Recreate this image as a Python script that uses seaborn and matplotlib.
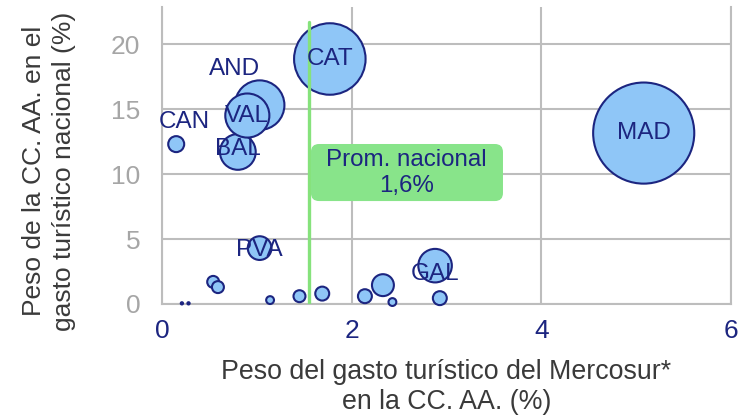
import pandas as pd
import seaborn as sns
import matplotlib.pyplot as plt
from matplotlib.patches import FancyBboxPatch

# Data
regiones = ["MAD", "CAT", "AND", "BAL", "VAL", "GAL", "PVA", "CAN",
            "", "", "", "", "", "", "", "", "", "", ""]
peso_mercosur = [5.08, 1.77, 1.03, 0.80, 0.90, 2.88, 1.03, 0.15,
                 2.33, 0.54, 0.59, 1.69, 2.14, 1.45, 2.93, 1.14, 2.43, 0.21, 0.28]
peso_nacional = [13.15, 18.85, 15.3, 11.7, 14.5, 2.95, 4.3, 12.3,
                 1.45, 1.7, 1.3, 0.8, 0.6, 0.6, 0.45, 0.3, 0.15, 0.05, 0.05]
tamano = [100, 50, 24, 12.5, 19, 11, 5.5, 2.5,
          4.7, 1.4, 1.4, 1.9, 1.9, 1.4, 1.9, 0.6, 0.6, 0.05, 0.05]

promedio = 1.55

df = pd.DataFrame({"region": regiones, "x": peso_mercosur,
                   "y": peso_nacional, "tam": tamano})

navy = "#1c2580"
fill = "#8fc6f7"
grid = "#bdbdbd"

sns.set_style("white")
plt.rcParams["font.family"] = ["Liberation Sans", "DejaVu Sans"]

fig = plt.figure(figsize=(7.42, 4.17), dpi=100)
ax = fig.add_axes([0.2183, 0.271, 0.7668, 0.7122])

sns.scatterplot(data=df, x="x", y="y", size="tam", sizes=(0, 5300),
                size_norm=(0, 100), color=fill, edgecolor=navy,
                linewidth=1.5, alpha=1, legend=False, ax=ax, zorder=3,
                clip_on=False)

# national average line + label box
ax.plot([promedio, promedio], [0, 21.7], color="#86e27c", lw=2.4, zorder=4)
box = FancyBboxPatch((1.571, 7.92), 2.025, 4.39,
                     boxstyle="round,pad=0,rounding_size=0.085",
                     mutation_aspect=7.29, fc="#88e48a", ec="none", zorder=5)
ax.add_patch(box)
ax.text(2.58, 10.1, "Prom. nacional\n1,6%", ha="center", va="center",
        fontsize=17.4, color=navy, zorder=6, linespacing=1.25)

# labels (offsets in points)
offsets = {"MAD": (0, 0), "CAT": (0, 0), "AND": (-18, 26), "VAL": (0, 0),
           "BAL": (0, 2), "GAL": (0, -6), "PVA": (0, -1.5), "CAN": (5.5, 16)}
for r, x, y in zip(regiones, peso_mercosur, peso_nacional):
    if r:
        ax.annotate(r, (x, y), xytext=offsets[r], textcoords="offset points",
                    ha="center", va="center", fontsize=17.5, color=navy,
                    zorder=7)

ax.set_xlim(0, 6)
ax.set_ylim(0, 22.85)
ax.set_xticks([0, 2, 4, 6])
ax.set_yticks([0, 5, 10, 15, 20])
ax.grid(True, color=grid, lw=1.5)
ax.set_axisbelow(True)
for s in ["left", "bottom", "right"]:
    ax.spines[s].set_color(grid)
    ax.spines[s].set_linewidth(1.5)
ax.spines["top"].set_visible(False)
ax.tick_params(axis="x", colors=grid, length=6, width=1.5, labelcolor=navy,
               labelsize=19, pad=5)
ax.tick_params(axis="y", length=0, labelcolor="#a6a6a6", labelsize=19,
               pad=15.5)

ax.set_xlabel("Peso del gasto turístico del Mercosur*\nen la CC. AA. (%)",
              fontsize=19.3, color="#3a3a3a", labelpad=11, linespacing=1.22)
ax.set_ylabel("Peso de la CC. AA. en el\ngasto turístico nacional (%)",
              fontsize=19, color="#3a3a3a", linespacing=1.3)
ax.yaxis.set_label_coords(-0.151, 0.448)

fig.savefig("out.png", dpi=100)
